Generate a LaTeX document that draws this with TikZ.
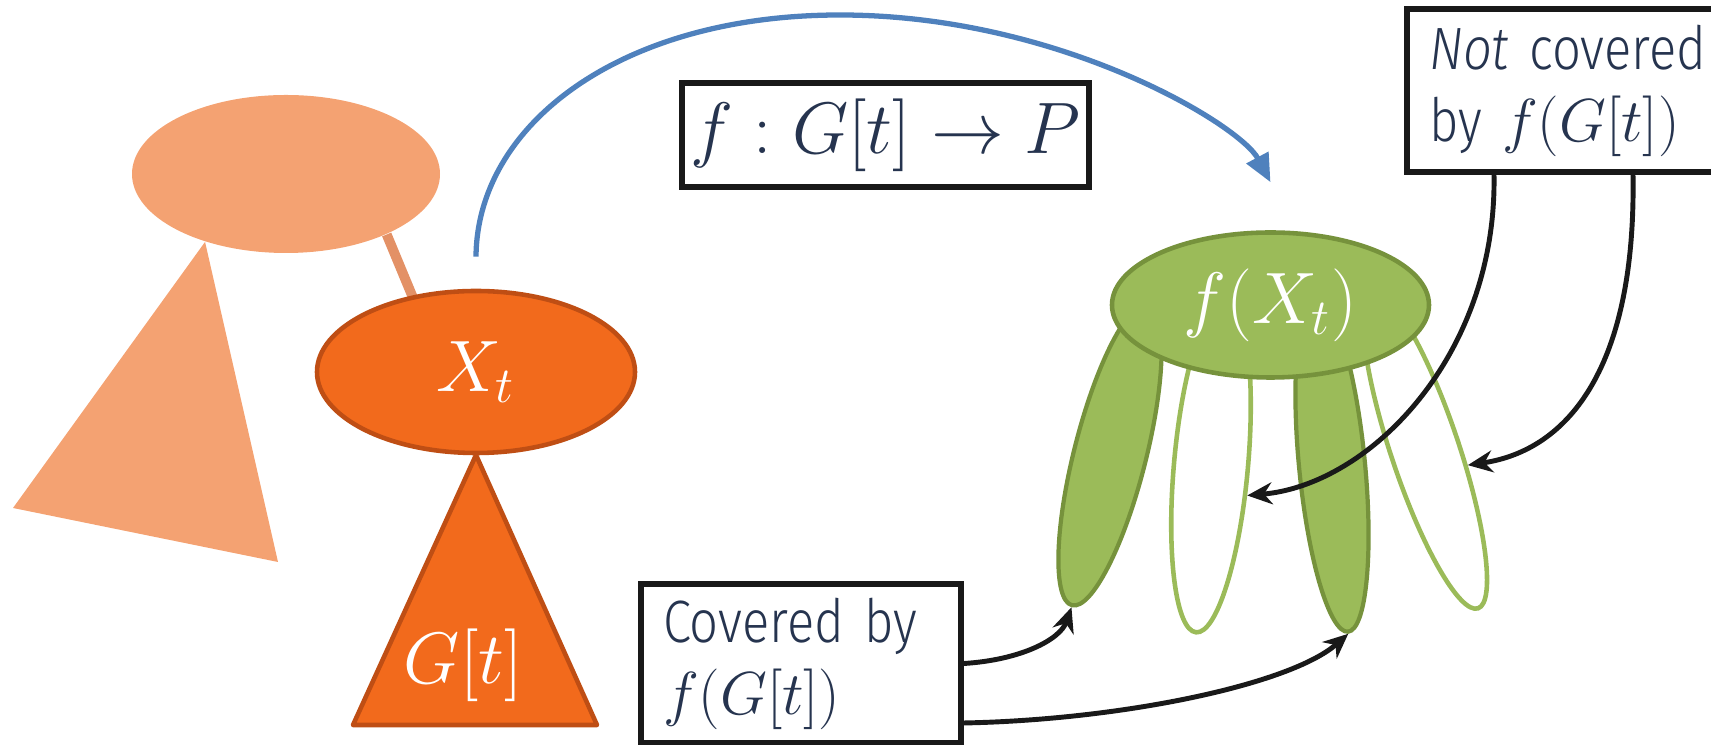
\documentclass[tikz,border=0pt]{standalone}
\usepackage{amsmath,amssymb}
\usepackage{fontspec}
\usepackage{tikz}
\usepackage{xcolor}
\usetikzlibrary{arrows.meta,positioning,shapes.geometric}
\newfontfamily\boxfont{Fira Sans}[UprightFont={* Light},ItalicFont={* Light Italic},FakeStretch=0.85]
\definecolor{ink}{HTML}{26344F}
\definecolor{bagfill}{HTML}{F26A1C}
\definecolor{bagedge}{HTML}{BF4E14}
\definecolor{oldbag}{HTML}{F4A272}
\definecolor{oldlink}{HTML}{E39166}
\definecolor{leafgreen}{HTML}{9BBB59}
\definecolor{leafedge}{HTML}{76923C}
\definecolor{arcblue}{HTML}{4F81BD}
\tikzset{
  bigmath/.style={font=\fontsize{20}{24}\selectfont,text=white},
  ghostbag/.style={ellipse,fill=oldbag,minimum width=3.08cm,minimum height=1.58cm,
                   inner sep=0pt},
  ghostlink/.style={draw=oldlink,line width=2.8pt},
  bagnode/.style={ellipse,draw=bagedge,fill=bagfill,line width=1.3pt,
                  minimum width=3.18cm,minimum height=1.62cm,inner sep=0pt,bigmath},
  subtree/.style={draw=bagedge,fill=bagfill,line width=1.3pt,line join=round},
  imgnode/.style={ellipse,draw=leafedge,fill=leafgreen,line width=1.3pt,
                  minimum width=3.17cm,minimum height=1.45cm,inner sep=0pt,bigmath},
  fullleaf/.style={ellipse,draw=leafedge,fill=leafgreen,line width=1.2pt,inner sep=0pt},
  emptyleaf/.style={ellipse,draw=leafgreen,line width=1.3pt,inner sep=0pt},
  infobox/.style={draw=black!90,fill=white,line width=1.7pt,text=ink},
  notebox/.style={infobox,align=left,inner xsep=0.22cm,inner ysep=0pt,
                  font=\boxfont\fontsize{17}{20.5}\selectfont},
  blackarr/.style={-{Stealth[length=2.5mm,width=2.2mm]},line width=1.4pt,draw=black!90},
  bluearr/.style={-{Triangle[length=2.8mm,width=2.4mm]},line width=1.5pt,draw=arcblue}
}
\begin{document}
\begin{tikzpicture}[x=1cm,y=1cm]
  \path[use as bounding box] (0,0) rectangle (17.11,7.45);

  % faded parent bag
  \node[ghostbag] (ob) at (2.86,5.71) {};
  \fill[oldbag] (ob.-140) -- (0.13,2.37) -- (2.78,1.83) -- cycle;
  \coordinate (bagtop) at (4.16,4.40);
  \draw[ghostlink] (ob.-31) -- (bagtop);

  % bag t and its subtree
  \filldraw[subtree] (4.76,2.90) -- (3.53,0.20) -- (5.97,0.20) -- cycle;
  \node[bagnode] (bag) at (4.76,3.73) {$X_t$};
  \node[bigmath] (gt) at (4.63,0.80) {$G[t]$};

  % image in P
  \node[fullleaf,rotate=75.8,minimum width=3.1cm,minimum height=0.72cm] (p1) at (11.10,2.90) {};
  \node[emptyleaf,rotate=84.9,minimum width=3.36cm,minimum height=0.74cm] (p2) at (12.11,2.80) {};
  \node[fullleaf,rotate=95.5,minimum width=3.35cm,minimum height=0.66cm] (p3) at (13.32,2.80) {};
  \node[emptyleaf,rotate=108.5,minimum width=3.34cm,minimum height=0.68cm] (p4) at (14.25,2.95) {};
  \node[imgnode] (img) at (12.705,4.40) {$f(X_t)$};

  % labels
  \node[infobox,minimum width=4.07cm,minimum height=1.04cm,inner sep=0pt,
        font=\fontsize{20}{24}\selectfont] (map) at (8.855,6.10) {$f : G[t] \to P$};
  \node[notebox,text width=2.96cm,minimum height=1.63cm] (nc) at (15.77,6.545)
    {\textit{Not} covered\\by $f(G[t])$};
  \node[notebox,text width=2.76cm,minimum height=1.59cm] (cov) at (8.01,0.815)
    {Covered by\\$f(G[t])$};

  \draw[bluearr] ([yshift=3.2mm]bag.north) .. controls (4.77,6.2) and (6.2,7.3) .. (8.4,7.3)
    .. controls (10.6,7.3) and (12.4,6.2) .. ([yshift=4.8mm]img.north);

  \draw[blackarr] ([xshift=9mm]nc.south west) .. controls (14.97,3.9) and (13.7,2.6) .. (p2.-125);
  \draw[blackarr] ([xshift=22.9mm]nc.south west) .. controls (16.36,3.8) and (15.7,2.95) .. (p4.-128);
  \draw[blackarr] (cov.east) .. controls (10.2,0.85) and (10.6,1.05) .. (p1.west);
  \draw[blackarr] ([yshift=2.3mm]cov.south east) .. controls (11.2,0.25) and (12.9,0.6) .. (p3.west);
\end{tikzpicture}
\end{document}
